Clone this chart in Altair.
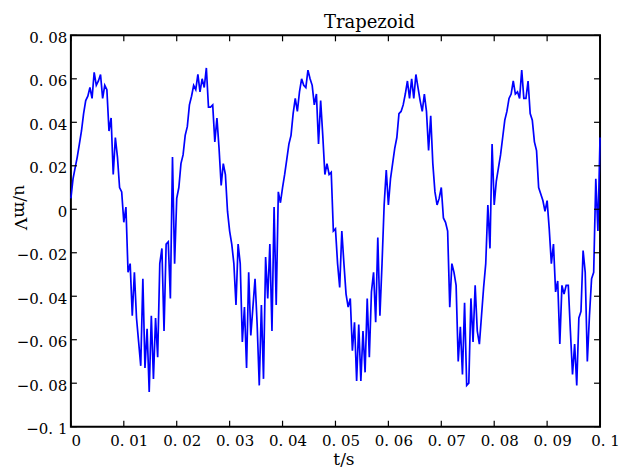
import altair as alt
import pandas as pd

t_s = [round(i * 0.0004, 4) for i in range(251)]
u_mv = [
    0.005, 0.014, 0.019, 0.024, 0.030, 0.036, 0.044, 0.050, 0.052, 0.056,
    0.051, 0.063, 0.057, 0.059, 0.062, 0.051, 0.057, 0.055, 0.036, 0.042,
    0.016, 0.033, 0.024, 0.010, 0.008, -0.006, 0.001, -0.029, -0.025, -0.049,
    -0.029, -0.050, -0.061, -0.072, -0.032, -0.073, -0.055, -0.084, -0.049, -0.078,
    -0.050, -0.068, -0.025, -0.018, -0.056, -0.016, -0.015, -0.041, 0.024, -0.025,
    0.005, 0.010, 0.021, 0.025, 0.034, 0.038, 0.048, 0.052, 0.057, 0.055,
    0.062, 0.054, 0.060, 0.056, 0.065, 0.047, 0.047, 0.048, 0.031, 0.042,
    0.028, 0.011, 0.021, 0.016, -0.001, -0.010, -0.016, -0.025, -0.044, -0.016,
    -0.025, -0.061, -0.045, -0.073, -0.029, -0.058, -0.045, -0.032, -0.053, -0.081,
    -0.044, -0.078, -0.022, -0.041, -0.016, -0.056, 0.001, -0.044, 0.008, 0.003,
    0.010, 0.016, 0.023, 0.030, 0.034, 0.044, 0.051, 0.045, 0.054, 0.060,
    0.057, 0.056, 0.064, 0.060, 0.057, 0.048, 0.053, 0.030, 0.050, 0.034,
    0.016, 0.021, 0.016, 0.017, -0.010, -0.009, -0.025, -0.036, -0.010, -0.025,
    -0.039, -0.045, -0.041, -0.065, -0.052, -0.079, -0.053, -0.079, -0.056, -0.075,
    -0.041, -0.068, -0.038, -0.029, -0.052, -0.013, -0.049, -0.025, 0.002, 0.018,
    0.002, 0.014, 0.021, 0.028, 0.033, 0.044, 0.045, 0.048, 0.053, 0.059,
    0.051, 0.060, 0.051, 0.062, 0.056, 0.050, 0.045, 0.053, 0.045, 0.027,
    0.043, 0.021, 0.008, 0.002, 0.005, 0.010, -0.004, -0.006, -0.010, -0.045,
    -0.025, -0.029, -0.035, -0.070, -0.054, -0.076, -0.043, -0.081, -0.080, -0.041,
    -0.061, -0.035, -0.056, -0.062, -0.049, -0.036, -0.025, 0.002, -0.018, 0.030,
    0.002, 0.013, 0.019, 0.025, 0.033, 0.041, 0.045, 0.051, 0.053, 0.059,
    0.053, 0.054, 0.051, 0.064, 0.051, 0.051, 0.059, 0.044, 0.041, 0.031,
    0.027, 0.010, 0.007, 0.004, -0.001, 0.004, -0.009, -0.025, -0.016, -0.038,
    -0.033, -0.062, -0.035, -0.039, -0.035, -0.035, -0.056, -0.076, -0.062, -0.081,
    -0.050, -0.047, -0.019, -0.029, -0.070, -0.049, -0.032, -0.029, 0.014, -0.010,
    0.033,
]

x_ticks = [0, 0.01, 0.02, 0.03, 0.04, 0.05, 0.06, 0.07, 0.08, 0.09, 0.1]
x_tick_labels = ["0", "0. 01", "0. 02", "0. 03", "0. 04", "0. 05",
                 "0. 06", "0. 07", "0. 08", "0. 09", "0. 1"]
y_ticks = [-0.1, -0.08, -0.06, -0.04, -0.02, 0, 0.02, 0.04, 0.06, 0.08]
y_tick_labels = ["\u22120. 1", "\u22120. 08", "\u22120. 06", "\u22120. 04", "\u22120. 02",
                 "0\u2007", "0. 02", "0. 04", "0. 06", "0. 08"]

df = pd.DataFrame({"t": t_s, "u": u_mv})
xt = pd.DataFrame({"t": x_ticks})
yt = pd.DataFrame({"u": y_ticks})

W, H = 530, 392
SERIF = "DejaVu Serif"

x_lab_expr = "[" + ",".join("'%s'" % s for s in x_tick_labels) + "][round(datum.value*100)]"
y_lab_expr = "[" + ",".join("'%s'" % s for s in y_tick_labels) + "][round((datum.value+0.1)*50)]"

xscale = alt.Scale(domain=[0, 0.1], nice=False, zero=False)
yscale = alt.Scale(domain=[-0.1, 0.08], nice=False, zero=False)

x_axis = alt.Axis(values=x_ticks, labelExpr=x_lab_expr, title="t/s",
                  domain=False, ticks=False, grid=False,
                  labelPadding=7, labelOffset=5, labelFlush=False,
                  labelOverlap=False,
                  titleX=273, titleY=38,
                  titleBaseline="alphabetic", titleAlign="center")
y_axis = alt.Axis(values=y_ticks, labelExpr=y_lab_expr, title="u/mV",
                  domain=False, ticks=False, grid=False,
                  labelPadding=4, labelOffset=2, labelFlush=False,
                  labelOverlap=False,
                  titleAngle=90, titleX=-51, titleY=172,
                  titleBaseline="middle", titleAlign="center")

line = alt.Chart(df).mark_line(color="#0000FF", strokeWidth=1.7).encode(
    x=alt.X("t:Q", scale=xscale, axis=x_axis),
    y=alt.Y("u:Q", scale=yscale, axis=y_axis),
)

tick_style = dict(color="black", strokeWidth=1.2)
xt_bottom = alt.Chart(xt).mark_rule(**tick_style).encode(
    x=alt.X("t:Q", scale=xscale, axis=x_axis), y=alt.value(H), y2=alt.value(H - 6))
xt_top = alt.Chart(xt).mark_rule(**tick_style).encode(
    x=alt.X("t:Q", scale=xscale, axis=x_axis), y=alt.value(0), y2=alt.value(6))
yt_left = alt.Chart(yt).mark_rule(**tick_style).encode(
    y=alt.Y("u:Q", scale=yscale, axis=y_axis), x=alt.value(0), x2=alt.value(6))
yt_right = alt.Chart(yt).mark_rule(**tick_style).encode(
    y=alt.Y("u:Q", scale=yscale, axis=y_axis), x=alt.value(W), x2=alt.value(W - 6))

chart = alt.layer(line, xt_bottom, xt_top, yt_left, yt_right).properties(
    width=W, height=H,
    title=alt.TitleParams("Trapezoid", dx=34, dy=28, offset=8, baseline="bottom",
                          anchor="middle"),
    view=alt.ViewBackground(stroke="black", strokeWidth=2),
    autosize=alt.AutoSizeParams(type="none"),
    padding={"left": 63, "top": 27, "right": 20, "bottom": 42},
).configure(
    background="white",
    font=SERIF,
).configure_view(
    stroke="black", strokeWidth=2
).configure_axis(
    labelFont=SERIF, labelFontSize=15, labelColor="#000",
    titleFont=SERIF, titleFontSize=17, titleFontWeight="normal", titleColor="#000",
).configure_title(
    font=SERIF, fontSize=18, fontWeight="normal", color="#000",
)

chart.save("out.html", embed_options={"renderer": "svg", "actions": False})
